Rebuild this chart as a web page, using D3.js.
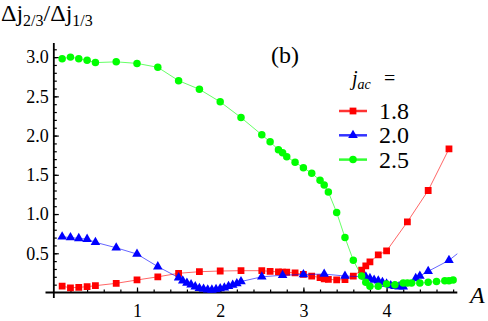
<!DOCTYPE html>
<html>
<head>
<meta charset="utf-8">
<script src="https://cdn.jsdelivr.net/npm/d3@7"></script>
<style>
  body { margin: 0; background: #fff; }
  svg { display: block; }
  svg text { font-family: "Liberation Serif", "Times New Roman", serif; }
</style>
</head>
<body>
<svg id="grafico" width="488" height="321"></svg>
<script>
// Dados (b)
const aVermelho = [0.1,0.2,0.3,0.4,0.5,0.75,1.0,1.25,1.5,1.75,2.0,2.25,2.5,2.6,2.7,2.75,2.8,2.9,3.0,3.1,3.2,3.25,3.3,3.4,3.5,3.6,3.7,3.75,3.8,3.9,4.0,4.25,4.5,4.75];
const vVermelho = [0.08,0.06,0.066,0.074,0.087,0.117,0.16,0.20,0.245,0.265,0.274,0.278,0.278,0.27,0.262,0.26,0.258,0.25,0.23,0.21,0.19,0.175,0.168,0.16,0.165,0.21,0.285,0.34,0.39,0.48,0.53,0.90,1.30,1.83];

const aAzul = [0.1,0.2,0.3,0.4,0.5,0.75,1.0,1.25,1.5,1.55,1.6,1.65,1.7,1.75,1.8,1.85,1.9,1.95,2.0,2.05,2.1,2.15,2.2,2.25,2.5,2.75,3.0,3.25,3.5,3.75,3.8,3.85,3.9,3.95,4.0,4.05,4.1,4.15,4.2,4.35,4.4,4.5,4.75,5.0];
const vAzul = [0.71,0.70,0.69,0.68,0.64,0.57,0.49,0.33,0.19,0.15,0.12,0.10,0.075,0.055,0.045,0.035,0.033,0.04,0.05,0.06,0.08,0.095,0.115,0.14,0.20,0.22,0.23,0.235,0.21,0.20,0.18,0.16,0.15,0.13,0.11,0.09,0.08,0.075,0.075,0.18,0.21,0.27,0.41,0.62];

const aVerde = [0.1,0.2,0.3,0.4,0.5,0.75,1.0,1.25,1.5,1.75,2.0,2.25,2.5,2.6,2.7,2.75,2.8,2.9,3.0,3.1,3.2,3.25,3.3,3.4,3.5,3.6,3.7,3.75,3.8,3.9,4.0,4.1,4.2,4.25,4.3,4.4,4.5,4.6,4.7,4.75,4.8];
const vVerde = [2.98,3.0,2.98,2.96,2.93,2.94,2.92,2.87,2.70,2.59,2.43,2.23,2.01,1.92,1.82,1.78,1.73,1.66,1.59,1.52,1.43,1.37,1.28,1.02,0.70,0.41,0.21,0.13,0.08,0.08,0.11,0.10,0.12,0.12,0.12,0.12,0.13,0.14,0.15,0.15,0.16];

const rotulosLegenda = ["1.8", "2.0", "2.5"];
const ticksX = [1, 2, 3, 4];
const ticksY = [0.5, 1.0, 1.5, 2.0, 2.5, 3.0];

const series = [
  { nome: rotulosLegenda[0], cor: "#ff0000", simbolo: d3.symbolSquare, tam: 46, a: aVermelho, v: vVermelho },
  { nome: rotulosLegenda[1], cor: "#0000ff", simbolo: d3.symbolTriangle, tam: 40, a: aAzul, v: vAzul },
  { nome: rotulosLegenda[2], cor: "#00ff00", simbolo: d3.symbolCircle, tam: 44, a: aVerde, v: vVerde }
];

const fonte = "Liberation Serif";
const svg = d3.select("#grafico");

// Escalas
const x = d3.scaleLinear().domain([-0.1, 4.85]).range([45.5, 457.3]);
const y = d3.scaleLinear().domain([-0.07, 3.18]).range([298, 43]);

svg.append("clipPath").attr("id", "recorte")
  .append("rect")
  .attr("x", x(-0.1)).attr("y", y(3.18))
  .attr("width", x(4.85) - x(-0.1)).attr("height", y(-0.07) - y(3.18));

// Eixos (estilo Mathematica, ticks para dentro)
const eixoX = svg.append("g").attr("transform", `translate(0,${y(0)})`);
eixoX.call(d3.axisBottom(x).tickValues(d3.range(0.2, 4.81, 0.2)).tickSize(-3).tickFormat(""));
eixoX.call(g => g.select(".domain").remove());
const eixoXMaior = svg.append("g").attr("transform", `translate(0,${y(0)})`)
  .call(d3.axisBottom(x).tickValues(ticksX).tickSize(-5).tickPadding(12).tickFormat(d3.format("d")));
eixoXMaior.select(".domain").remove();
eixoXMaior.attr("font-family", fonte).attr("font-size", 18);

const eixoY = svg.append("g").attr("transform", `translate(${x(0)},0)`);
eixoY.call(d3.axisLeft(y).tickValues(d3.range(0.1, 3.151, 0.1)).tickSize(-3).tickFormat(""));
eixoY.call(g => g.select(".domain").remove());
const eixoYMaior = svg.append("g").attr("transform", `translate(${x(0)},0)`)
  .call(d3.axisLeft(y).tickValues(ticksY).tickSize(-5).tickPadding(5).tickFormat(d3.format(".1f")));
eixoYMaior.select(".domain").remove();
eixoYMaior.attr("font-family", fonte).attr("font-size", 18);

svg.selectAll(".tick line").attr("stroke", "#000").attr("stroke-width", 1.2);

svg.append("line")
  .attr("x1", x(-0.1)).attr("x2", x(4.85)).attr("y1", y(0)).attr("y2", y(0))
  .attr("stroke", "#000").attr("stroke-width", 1.8);
svg.append("line")
  .attr("x1", x(0)).attr("x2", x(0)).attr("y1", y(-0.07)).attr("y2", y(3.18))
  .attr("stroke", "#000").attr("stroke-width", 1.8);

// Curvas
const area = svg.append("g").attr("clip-path", "url(#recorte)");
const linha = d3.line().x(d => x(d[0])).y(d => y(d[1]));

series.forEach(s => {
  const pontos = s.a.map((a, i) => [a, s.v[i]]);
  area.append("path")
    .datum(pontos)
    .attr("d", linha)
    .attr("fill", "none")
    .attr("stroke", s.cor)
    .attr("stroke-opacity", 0.6)
    .attr("stroke-width", 1);
  area.selectAll(null)
    .data(pontos)
    .enter()
    .append("path")
    .attr("d", d3.symbol().type(s.simbolo).size(s.tam))
    .attr("transform", d => `translate(${x(d[0])},${y(d[1])})`)
    .attr("fill", s.cor);
});

// Rótulos dos eixos
const rotuloY = svg.append("text").attr("x", 1).attr("y", 21)
  .attr("font-family", fonte).attr("font-size", 24);
rotuloY.append("tspan").text("Δj");
rotuloY.append("tspan").attr("font-size", 16).attr("dy", 5).text("2/3");
rotuloY.append("tspan").attr("dy", -5).text("/Δj");
rotuloY.append("tspan").attr("font-size", 16).attr("dy", 5).text("1/3");

svg.append("text").attr("x", 470).attr("y", 303)
  .attr("font-family", fonte).attr("font-size", 24).attr("font-style", "italic").text("A");

svg.append("text").attr("x", 271).attr("y", 63)
  .attr("font-family", fonte).attr("font-size", 24).text("(b)");

// Legenda
const titulo = svg.append("text").attr("x", 352).attr("y", 85)
  .attr("font-family", fonte).attr("font-size", 20);
titulo.append("tspan").attr("font-style", "italic").text("j");
titulo.append("tspan").attr("font-style", "italic").attr("font-size", 14).attr("dy", 4).text("ac");
titulo.append("tspan").attr("x", 384).attr("dy", -4).text("=");

const legenda = svg.append("g");
series.forEach((s, i) => {
  const yl = 111 + i * 24.3;
  legenda.append("line")
    .attr("x1", 339).attr("x2", 367).attr("y1", yl).attr("y2", yl)
    .attr("stroke", s.cor).attr("stroke-opacity", 0.8).attr("stroke-width", 2.5);
  legenda.append("path")
    .attr("d", d3.symbol().type(s.simbolo).size(s.tam))
    .attr("transform", `translate(353,${yl})`)
    .attr("fill", s.cor);
  legenda.append("text")
    .attr("x", 379).attr("y", yl + 8)
    .attr("font-family", fonte).attr("font-size", 24)
    .text(s.nome);
});
</script>
</body>
</html>
